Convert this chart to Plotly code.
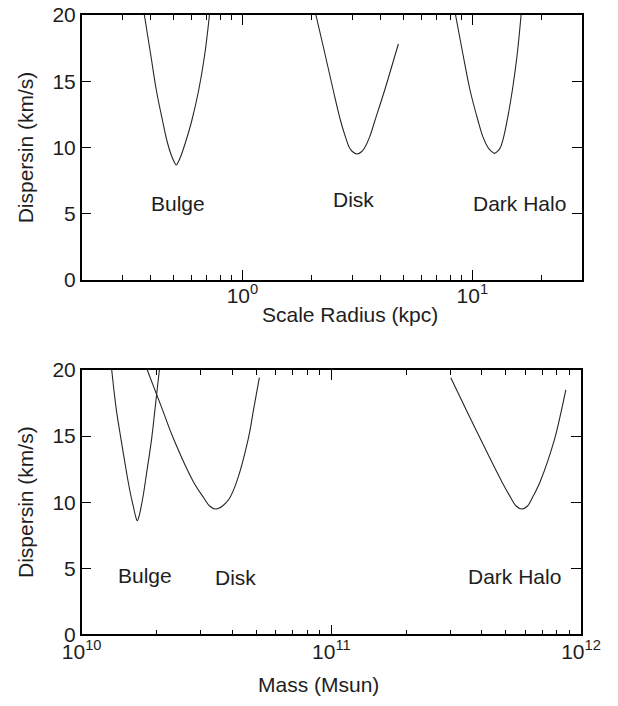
import numpy as np
import plotly.graph_objects as go

# ---------------- data ----------------
# Top panel: dispersion (km/s) vs scale radius (kpc)
bulge_r = [0.3746, 0.3993, 0.4222, 0.4497, 0.4727, 0.4905, 0.5029, 0.5158,
           0.5287, 0.5421, 0.5641, 0.6018, 0.6457, 0.6855, 0.7190]
bulge_sig_r = [20.0, 17.0, 14.34, 12.0, 10.32, 9.43, 8.98, 8.68,
               8.98, 9.43, 10.32, 12.0, 14.34, 17.0, 20.0]
disk_r = [2.088, 2.291, 2.482, 2.675, 2.804, 2.918, 3.007, 3.155,
          3.306, 3.407, 3.581, 3.765, 4.160, 4.620, 4.770]
disk_sig_r = [20.0, 17.0, 14.34, 12.0, 10.82, 10.0, 9.70, 9.51,
              9.70, 10.0, 10.82, 12.0, 14.34, 17.0, 17.81]
halo_r = [8.454, 9.114, 9.772, 10.60, 11.11, 11.70, 12.05, 12.49,
          12.93, 13.25, 13.70, 14.16, 14.94, 15.67, 16.30]
halo_sig_r = [20.0, 17.0, 14.34, 12.0, 10.82, 10.0, 9.74, 9.56,
              9.74, 10.0, 10.82, 12.0, 14.34, 17.0, 20.0]

# Bottom panel: dispersion (km/s) vs mass (Msun)
bulge_m = [1.319e10, 1.376e10, 1.435e10, 1.520e10, 1.572e10, 1.613e10, 1.640e10, 1.670e10,
           1.701e10, 1.728e10, 1.765e10, 1.813e10, 1.907e10, 1.965e10, 2.047e10]
bulge_sig_m = [20.0, 17.0, 14.83, 12.0, 10.54, 9.6, 9.0, 8.60,
               9.0, 9.6, 10.54, 12.0, 14.83, 17.0, 20.0]
disk_m = [1.831e10, 2.106e10, 2.328e10, 2.800e10, 3.090e10, 3.251e10, 3.443e10,
          3.665e10, 3.910e10, 4.178e10, 4.651e10, 4.880e10, 5.147e10]
disk_sig_m = [20.0, 17.0, 14.83, 11.55, 10.3, 9.71, 9.48,
              9.71, 10.3, 11.55, 14.83, 17.0, 19.42]
halo_m = [3.009e11, 3.467e11, 3.943e11, 4.817e11, 5.248e11, 5.495e11, 5.792e11,
          6.109e11, 6.370e11, 6.859e11, 7.852e11, 8.362e11, 8.692e11]
halo_sig_m = [19.42, 17.0, 14.83, 11.55, 10.3, 9.71, 9.48,
              9.71, 10.3, 11.55, 14.83, 17.0, 18.49]

# component labels and where they sit (data coordinates)
component_labels = ["Bulge", "Disk", "Dark Halo"]
label_r = [0.526, 3.03, 16.0]
label_sig_r = [5.74, 6.04, 5.74]
label_m = [1.79e10, 4.13e10, 5.4e11]
label_sig_m = [4.43, 4.28, 4.36]

# axis texts and ticks
y_title = "Dispersin (km/s)"
x_title_top = "Scale Radius (kpc)"
x_title_bottom = "Mass (Msun)"
y_ticks = [0, 5, 10, 15, 20]
r_major = [1, 10]
r_major_text = ["10<sup>0</sup>", "10<sup>1</sup>"]
r_minor = [0.3, 0.4, 0.5, 0.6, 0.7, 0.8, 0.9, 2, 3, 4, 5, 6, 7, 8, 9, 20]
m_major = [1e10, 1e11, 1e12]
m_major_text = ["10<sup>10</sup>", "10<sup>11</sup>", "10<sup>12</sup>"]
m_minor = [2e10, 3e10, 4e10, 5e10, 6e10, 7e10, 8e10, 9e10,
           2e11, 3e11, 4e11, 5e11, 6e11, 7e11, 8e11, 9e11]

# ---------------- figure ----------------
W, H = 618, 706
LINE = "#262626"
TXT = "#1e1e1e"
FONT = "Liberation Sans, Arial, sans-serif"
FS = 21

fig = go.Figure()
for xs, ys in [(bulge_r, bulge_sig_r), (disk_r, disk_sig_r), (halo_r, halo_sig_r)]:
    fig.add_trace(go.Scatter(x=xs, y=ys, mode="lines", xaxis="x", yaxis="y",
                             line=dict(color=LINE, width=1.1, shape="spline", smoothing=1.0),
                             showlegend=False, hoverinfo="skip"))
for xs, ys in [(bulge_m, bulge_sig_m), (disk_m, disk_sig_m), (halo_m, halo_sig_m)]:
    fig.add_trace(go.Scatter(x=xs, y=ys, mode="lines", xaxis="x2", yaxis="y2",
                             line=dict(color=LINE, width=1.1, shape="spline", smoothing=1.0),
                             showlegend=False, hoverinfo="skip"))

tfont = dict(size=FS, color=TXT, family=FONT)
annotations = []
for t, xv, yv in zip(component_labels, label_r, label_sig_r):
    annotations.append(dict(text=t, x=np.log10(xv), y=yv, xref="x", yref="y",
                            showarrow=False, font=tfont))
for t, xv, yv in zip(component_labels, label_m, label_sig_m):
    annotations.append(dict(text=t, x=np.log10(xv), y=yv, xref="x2", yref="y2",
                            showarrow=False, font=tfont))
# x-axis titles (placed as paper annotations to match the tight spacing)
annotations.append(dict(text=x_title_top, x=350 / W, y=1 - 314 / H, xref="paper", yref="paper",
                        xanchor="center", yanchor="middle", showarrow=False, font=tfont))
annotations.append(dict(text=x_title_bottom, x=318 / W, y=1 - 684 / H, xref="paper", yref="paper",
                        xanchor="center", yanchor="middle", showarrow=False, font=tfont))

common_axis = dict(showline=True, linecolor="black", linewidth=1.5, mirror="allticks",
                   ticks="inside", tickcolor="black", tickwidth=1, showgrid=False,
                   zeroline=False, tickfont=dict(size=FS, color=TXT, family=FONT),
                   automargin=False)

x1_dom = [81.7 / W, 582 / W]
x2_dom = [81.7 / W, 581 / W]
y1_dom = [1 - 280 / H, 1 - 15 / H]
y2_dom = [1 - 634.3 / H, 1 - 370 / H]

fig.update_layout(
    width=W, height=H,
    margin=dict(l=0, r=0, t=0, b=0),
    paper_bgcolor="white", plot_bgcolor="white",
    font=dict(family=FONT, color=TXT),
    annotations=annotations,
    xaxis=dict(common_axis, type="log", domain=x1_dom, anchor="y",
               range=[np.log10(0.2), np.log10(30)],
               tickmode="array", tickvals=r_major, ticktext=r_major_text, ticklen=10,
               ticklabelstandoff=-4,
               minor=dict(tickmode="array", tickvals=r_minor, ticks="inside", ticklen=5,
                          tickcolor="black", tickwidth=1, showgrid=False)),
    yaxis=dict(common_axis, domain=y1_dom, anchor="x", range=[0, 20],
               tickmode="array", tickvals=y_ticks, ticklen=10,
               title=dict(text=y_title, font=tfont, standoff=13)),
    xaxis2=dict(common_axis, type="log", domain=x2_dom, anchor="y2",
                range=[10, 12],
                tickmode="array", tickvals=m_major, ticktext=m_major_text, ticklen=10,
                ticklabelstandoff=-2,
                minor=dict(tickmode="array", tickvals=m_minor, ticks="inside", ticklen=5,
                           tickcolor="black", tickwidth=1, showgrid=False)),
    yaxis2=dict(common_axis, domain=y2_dom, anchor="x2", range=[0, 20],
                tickmode="array", tickvals=y_ticks, ticklen=10,
                title=dict(text=y_title, font=tfont, standoff=13)),
)

fig.write_html("out.html", config={"displayModeBar": False},
               post_script="document.body.style.margin='0px';")
